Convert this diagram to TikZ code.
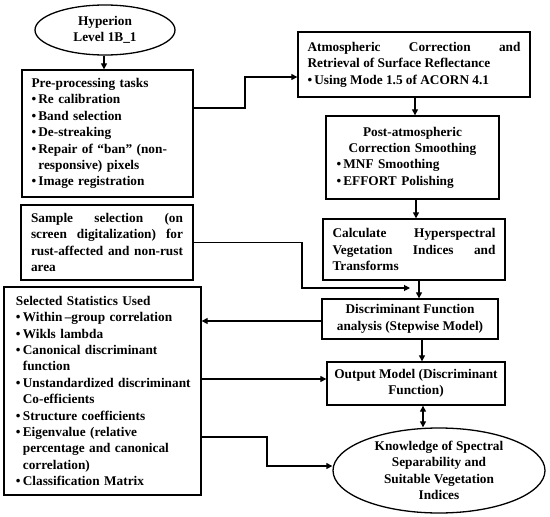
\documentclass[tikz,border=0pt]{standalone}
\usepackage{fontspec}
\setmainfont{Liberation Serif}
\usetikzlibrary{arrows.meta,shapes.geometric}
\newcommand\bl{\textbullet\,}
\newcommand\myind{\hphantom{\textbullet}\,}
\begin{document}
\begin{tikzpicture}[x=1pt,y=-1pt,
  box/.style={draw, line width=1.3pt, inner sep=0pt, font=\bfseries\fontsize{13.3}{16.4}\selectfont},
  arr/.style={line width=1.1pt, -{Triangle[length=6pt,width=6pt]}},
  darr/.style={line width=1.1pt, {Triangle[length=6pt,width=6pt]}-{Triangle[length=6pt,width=6pt]}}]
\useasboundingbox (0,0) rectangle (550,517);

\node[box, ellipse, minimum width=140pt, minimum height=50pt, align=center] (hyp) at (105,30) {Hyperion\\Level 1B\_1};

\node[box, minimum width=171pt, minimum height=127pt, text width=152pt, align=left] (pre) at (107.5,133.5)
 {Pre-processing tasks\\
  \bl Re calibration\\
  \bl Band selection\\
  \bl De-streaking\\
  \bl Repair of “ban” (non-\\
  \myind responsive) pixels\\
  \bl Image registration};

\node[box, minimum width=232pt, minimum height=65pt, text width=213pt, align=justify] (atm) at (414,64.5)
 {Atmospheric Correction and\linebreak Retrieval of Surface Reflectance\\
  \bl Using Mode 1.5 of ACORN 4.1};

\node[box, minimum width=173pt, minimum height=83pt, text width=152pt] (post) at (412.5,157.5)
 {{\centering Post-atmospheric\\ Correction Smoothing\par}
  {\raggedright\bl MNF Smoothing\\ \bl EFFORT Polishing\par}};

\node[box, minimum width=182pt, minimum height=61pt, text width=163pt, align=justify] (calc) at (414,249.5)
 {Calculate Hyperspectral\linebreak Vegetation Indices and\linebreak Transforms};

\node[box, minimum width=172pt, minimum height=75pt, text width=152pt, align=justify] (samp) at (107,242.5)
 {Sample selection (on\linebreak screen digitalization) for\linebreak rust-affected and non-rust\linebreak area};

\node[box, minimum width=176pt, minimum height=40pt, align=center] (disc) at (410,319)
 {Discriminant Function\\analysis (Stepwise Model)};

\node[box, minimum width=197pt, minimum height=208pt, text width=173pt, align=left] (stats) at (102.5,391)
 {Selected Statistics Used\\
  \bl Within\,–group correlation\\
  \bl Wikls lambda\\
  \bl Canonical discriminant\\
  \myind function\\
  \mbox{\bl Unstandardized discriminant}\\
  \myind Co-efficients\\
  \bl Structure coefficients\\
  \bl Eigenvalue (relative\\
  \myind percentage and canonical\\
  \myind correlation)\\
  \bl Classification Matrix};

\node[box, minimum width=178pt, minimum height=43pt, align=center] (out) at (416,383.5)
 {Output Model (Discriminant\\Function)};

\node[box, ellipse, minimum width=212pt, minimum height=85pt, align=center] (know) at (439,470.5)
 {Knowledge of Spectral\\Separability and\\Suitable Vegetation\\Indices};

% connectors
\draw[arr] ([xshift=-1pt]hyp.south) -- ([xshift=-1pt]hyp.south |- pre.north);

\coordinate (b1) at (245,108);
\coordinate (b2) at (245,77);
\draw[arr] (pre.east |- b1) -- (b1) -- (b2) -- (b2 -| atm.west);

\draw[arr] ([xshift=1pt]atm.south) -- ([xshift=1pt]atm.south |- post.north);
\draw[arr] ([xshift=3.5pt]post.south) -- ([xshift=3.5pt]post.south |- calc.north);
\draw[arr] ([xshift=5pt]calc.south) -- ([xshift=5pt]calc.south |- disc.north);
\draw[arr] ([xshift=12pt]disc.south) -- ([xshift=12pt]disc.south |- out.north);
\draw[darr] ([xshift=7pt]out.south) -- ([xshift=7pt]out.south |- know.north);

\coordinate (b3) at (302,242.5);
\coordinate (b4) at (302,288);
\coordinate (e1) at (410,288);
\draw[arr] (samp.east) -- (b3) -- (b4) -- (e1);

\coordinate (c1) at (0,321);
\draw[arr] (disc.west |- c1) -- (stats.east |- c1);

\coordinate (c2) at (0,379);
\draw[arr] (stats.east |- c2) -- (out.west |- c2);

\coordinate (b5) at (267,437);
\coordinate (b6) at (267,466);
\draw[arr] (stats.east |- b5) -- (b5) -- (b6) -- (b6 -| know.west);
\end{tikzpicture}
\end{document}
